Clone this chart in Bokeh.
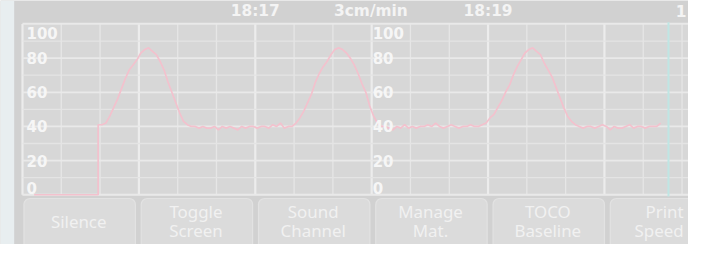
import numpy as np
from bokeh.plotting import figure
from bokeh.models import Range1d
from bokeh.core.properties import value
from bokeh.embed import file_html
from bokeh.resources import INLINE

# ---------------- data ----------------
# TOCO trace, seconds after 18:15:00, sampled every 2 s after the probe jump
toco_start_s = 39
toco_step_s = 2
toco_values = [
    41, 41, 42, 46, 51, 56, 62, 68, 73, 76,
    79, 83, 85, 86, 84, 82, 78, 73, 66, 60,
    54, 48, 43, 41, 40, 40, 39, 40, 39, 39,
    40, 38, 40, 39, 40, 39, 38, 40, 39, 40,
    40, 39, 40, 40, 39, 41, 40, 42, 39, 40,
    40, 42, 45, 49, 54, 59, 66, 71, 75, 78,
    82, 85, 86, 85, 83, 80, 76, 71, 65, 60,
    52, 46, 42, 40, 40, 39, 38, 40, 39, 41,
    39, 40, 39, 40, 40, 41, 40, 42, 40, 39,
    40, 41, 40, 39, 40, 40, 41, 40, 40, 41,
    42, 45, 47, 51, 55, 60, 64, 70, 75, 79,
    83, 85, 86, 84, 82, 77, 73, 69, 63, 57,
    51, 46, 43, 41, 40, 39, 40, 40, 39, 40,
    41, 40, 38, 40, 39, 39, 40, 41, 39, 40,
    40, 39, 40, 40, 40, 42,
]
zero_times = [6, 39]
zero_values = [0, 0]
cursor_s = 333

time_tick_s = [120, 240]
time_tick_labels = ["18:17", "18:19"]
edge_label = "1"
speed_label = "3cm/min"

y_ticks = [0, 20, 40, 60, 80, 100]
y_tick_labels = ["0", "20", "40", "60", "80", "100"]
panel_start_s = [0, 180]

button_line1 = ["Silence", "Toggle", "Sound", "Manage", "TOCO", "Print"]
button_line2 = ["", "Screen", "Channel", "Mat.", "Baseline", "Speed"]

# ---------------- layout (reference pixel space) ----------------
REF_W, REF_H = 704, 260
W, H = 688, 244
FS = 0.965  # font scale for shrunk canvas

CH_LEFT = 22.5
PX_PER_S = 1.985
Y0_PX, Y100_PX = 207.0, 25.0
PX_PER_UNIT = (Y0_PX - Y100_PX) / 100.0

t_start = (0 - CH_LEFT) / PX_PER_S
t_end = (REF_W - CH_LEFT) / PX_PER_S
v_bottom = (Y0_PX - REF_H) / PX_PER_UNIT
v_top = Y0_PX / PX_PER_UNIT

p = figure(width=W, height=H, x_range=Range1d(0, REF_W), y_range=Range1d(REF_H, 0),
           x_axis_type=None, y_axis_type=None, output_backend="svg",
           toolbar_location=None, min_border=0)
p.extra_x_ranges = {"time": Range1d(t_start, t_end)}
p.extra_y_ranges = {"toco": Range1d(v_bottom, v_top)}
p.grid.visible = False
p.outline_line_color = None
p.background_fill_color = "#d1d1d1"
p.border_fill_color = "#d1d1d1"

# backgrounds
p.quad(left=[0], right=[14], top=[0], bottom=[REF_H], fill_color="#e8eef0", line_color=None)
p.quad(left=[CH_LEFT], right=[REF_W], top=[23], bottom=[208], fill_color="#d7d7d7", line_color=None)

TR = dict(x_range_name="time", y_range_name="toco")

# grid
t_last = int(t_end)
vmin = [t for t in range(0, t_last + 1, 20) if t % 60 != 0]
vmaj = [t for t in range(0, t_last + 1, 20) if t % 60 == 0]
p.segment(x0=vmin, x1=vmin, y0=[0] * len(vmin), y1=[100] * len(vmin),
          line_color="#e6e6e6", line_width=1.3, **TR)
p.segment(x0=vmaj, x1=vmaj, y0=[0] * len(vmaj), y1=[100] * len(vmaj),
          line_color="#ececec", line_width=2.2, **TR)
hl = list(range(0, 101, 10))
hmaj = [h for h in hl if h % 20 == 0]
hmin = [h for h in hl if h % 20 != 0]
p.segment(x0=[0] * len(hmin), x1=[t_end] * len(hmin), y0=hmin, y1=hmin,
          line_color="#e4e4e4", line_width=1.3, **TR)
p.segment(x0=[0] * len(hmaj), x1=[t_end] * len(hmaj), y0=hmaj, y1=hmaj,
          line_color="#e9e9e9", line_width=1.8, **TR)

# cursor
p.segment(x0=[cursor_s], x1=[cursor_s], y0=[-1], y1=[101], line_color="#bfe6e4",
          line_width=2, **TR)

# trace (flat zero until the probe is attached, then the contraction record)
toco_times = [toco_start_s + toco_step_s * i for i in range(len(toco_values))]
p.line(zero_times + toco_times, zero_values + toco_values, line_color="#f3c1cd",
       line_width=1.7, **TR)

# y labels per panel
lab_font = dict(text_font=value("DejaVu Sans"), text_font_style="bold",
                text_color="#f6f6f6", text_font_size=f"{15.5*FS:.1f}px")
offs = [4, 1]
for s, ox in zip(panel_start_s, offs):
    for v, lbl in zip(y_ticks, y_tick_labels):
        if v == 100:
            base, oy = "top", 3
        elif v == 0:
            base, oy = "bottom", -1
        else:
            base, oy = "middle", 0
        p.text(x=[s], y=[v], text=[lbl], text_align="left", text_baseline=base,
               x_offset=ox, y_offset=oy, **lab_font, **TR)

# top bar labels
top_font = dict(text_font=value("DejaVu Sans"), text_font_style="bold",
                text_color="#f4f4f4", text_font_size=f"{16*FS:.1f}px")
p.text(x=time_tick_s, y=[11.5] * len(time_tick_s), text=time_tick_labels,
       text_align="center", text_baseline="middle", x_range_name="time", **top_font)
p.text(x=[379], y=[11.5], text=[speed_label], text_align="center",
       text_baseline="middle", **top_font)
p.text(x=[702], y=[11.5], text=[edge_label], text_align="right",
       text_baseline="middle", **top_font)

# buttons
n = len(button_line1)
bl = [24 + 120 * i for i in range(n)]
br = [138 + 120 * i for i in range(n)]
p.quad(left=bl, right=br, top=[211] * n, bottom=[266] * n, fill_color="#dbdbdb",
       line_color="#e2e2e2", line_width=1.2, border_radius=6)
btn_font = dict(text_font=value("Noto Sans"), text_color="#f1f1f1",
                text_font_size=f"{17.5*FS:.1f}px")
cx = [(a + b) / 2 - 1 for a, b in zip(bl, br)]
for i, (c, l1, l2) in enumerate(zip(cx, button_line1, button_line2)):
    align = "center"
    if i == n - 1:
        c, align = 699, "right"
    if l2:
        p.text(x=[c], y=[225], text=[l1], text_align=align,
               text_baseline="middle", **btn_font)
        p.text(x=[c], y=[245], text=[l2], text_align=align,
               text_baseline="middle", **btn_font)
    else:
        p.text(x=[c], y=[235], text=[l1], text_align=align,
               text_baseline="middle", **btn_font)

open("out.html", "w").write(file_html(p, INLINE))
